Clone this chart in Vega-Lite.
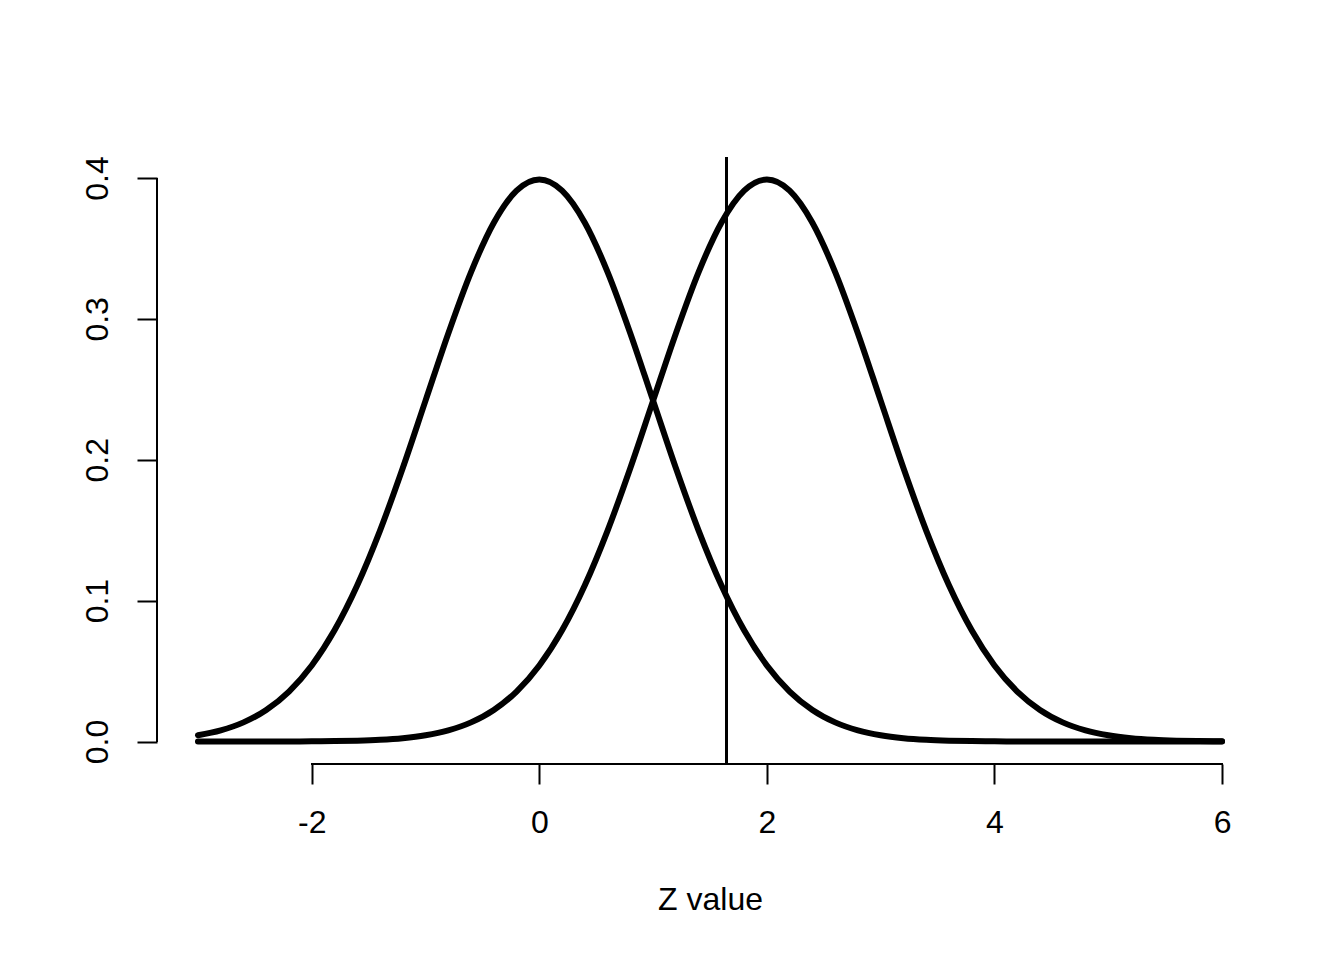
{
  "$schema": "https://vega.github.io/schema/vega-lite/v6.json",
  "width": 1106,
  "height": 607,
  "autosize": {"type": "none"},
  "padding": {"left": 157, "top": 157, "right": 81, "bottom": 196},
  "background": "white",
  "config": {
    "view": {"stroke": null},
    "font": "Liberation Sans",
    "axis": {"labelColor": "black", "titleColor": "black", "tickColor": "black", "grid": false, "domain": false, "labelFont": "Liberation Sans", "titleFont": "Liberation Sans", "labelFontSize": 32, "titleFontSize": 32, "titleFontWeight": "normal", "tickWidth": 2, "tickSize": 20}
  },
  "data": {
    "values": [
      {"z": -3.0, "d": 0.00443, "g": "H0"}, {"z": -2.8, "d": 0.00792, "g": "H0"}, {"z": -2.6, "d": 0.01358, "g": "H0"}, {"z": -2.4, "d": 0.02239, "g": "H0"}, {"z": -2.2, "d": 0.03547, "g": "H0"},
      {"z": -2.0, "d": 0.05399, "g": "H0"}, {"z": -1.8, "d": 0.07895, "g": "H0"}, {"z": -1.6, "d": 0.11092, "g": "H0"}, {"z": -1.4, "d": 0.14973, "g": "H0"}, {"z": -1.2, "d": 0.19419, "g": "H0"},
      {"z": -1.0, "d": 0.24197, "g": "H0"}, {"z": -0.8, "d": 0.28969, "g": "H0"}, {"z": -0.6, "d": 0.33322, "g": "H0"}, {"z": -0.4, "d": 0.36827, "g": "H0"}, {"z": -0.2, "d": 0.39104, "g": "H0"},
      {"z": 0.0, "d": 0.39894, "g": "H0"}, {"z": 0.2, "d": 0.39104, "g": "H0"}, {"z": 0.4, "d": 0.36827, "g": "H0"}, {"z": 0.6, "d": 0.33322, "g": "H0"}, {"z": 0.8, "d": 0.28969, "g": "H0"},
      {"z": 1.0, "d": 0.24197, "g": "H0"}, {"z": 1.2, "d": 0.19419, "g": "H0"}, {"z": 1.4, "d": 0.14973, "g": "H0"}, {"z": 1.6, "d": 0.11092, "g": "H0"}, {"z": 1.8, "d": 0.07895, "g": "H0"},
      {"z": 2.0, "d": 0.05399, "g": "H0"}, {"z": 2.2, "d": 0.03547, "g": "H0"}, {"z": 2.4, "d": 0.02239, "g": "H0"}, {"z": 2.6, "d": 0.01358, "g": "H0"}, {"z": 2.8, "d": 0.00792, "g": "H0"},
      {"z": 3.0, "d": 0.00443, "g": "H0"}, {"z": 3.2, "d": 0.00238, "g": "H0"}, {"z": 3.4, "d": 0.00123, "g": "H0"}, {"z": 3.6, "d": 0.00061, "g": "H0"}, {"z": 3.8, "d": 0.00029, "g": "H0"},
      {"z": 4.0, "d": 0.00013, "g": "H0"}, {"z": 4.2, "d": 0.00006, "g": "H0"}, {"z": 4.4, "d": 0.00002, "g": "H0"}, {"z": 4.6, "d": 0.00001, "g": "H0"}, {"z": 4.8, "d": 0.000004, "g": "H0"},
      {"z": 5.0, "d": 0.0000015, "g": "H0"}, {"z": 5.2, "d": 0.0000005, "g": "H0"}, {"z": 5.4, "d": 0.0000002, "g": "H0"}, {"z": 5.6, "d": 0.0000001, "g": "H0"}, {"z": 5.8, "d": 0.0, "g": "H0"}, {"z": 6.0, "d": 0.0, "g": "H0"},
      {"z": -3.0, "d": 0.0000015, "g": "H1"}, {"z": -2.8, "d": 0.000004, "g": "H1"}, {"z": -2.6, "d": 0.00001, "g": "H1"}, {"z": -2.4, "d": 0.00002, "g": "H1"}, {"z": -2.2, "d": 0.00006, "g": "H1"},
      {"z": -2.0, "d": 0.00013, "g": "H1"}, {"z": -1.8, "d": 0.00029, "g": "H1"}, {"z": -1.6, "d": 0.00061, "g": "H1"}, {"z": -1.4, "d": 0.00123, "g": "H1"}, {"z": -1.2, "d": 0.00238, "g": "H1"},
      {"z": -1.0, "d": 0.00443, "g": "H1"}, {"z": -0.8, "d": 0.00792, "g": "H1"}, {"z": -0.6, "d": 0.01358, "g": "H1"}, {"z": -0.4, "d": 0.02239, "g": "H1"}, {"z": -0.2, "d": 0.03547, "g": "H1"},
      {"z": 0.0, "d": 0.05399, "g": "H1"}, {"z": 0.2, "d": 0.07895, "g": "H1"}, {"z": 0.4, "d": 0.11092, "g": "H1"}, {"z": 0.6, "d": 0.14973, "g": "H1"}, {"z": 0.8, "d": 0.19419, "g": "H1"},
      {"z": 1.0, "d": 0.24197, "g": "H1"}, {"z": 1.2, "d": 0.28969, "g": "H1"}, {"z": 1.4, "d": 0.33322, "g": "H1"}, {"z": 1.6, "d": 0.36827, "g": "H1"}, {"z": 1.8, "d": 0.39104, "g": "H1"},
      {"z": 2.0, "d": 0.39894, "g": "H1"}, {"z": 2.2, "d": 0.39104, "g": "H1"}, {"z": 2.4, "d": 0.36827, "g": "H1"}, {"z": 2.6, "d": 0.33322, "g": "H1"}, {"z": 2.8, "d": 0.28969, "g": "H1"},
      {"z": 3.0, "d": 0.24197, "g": "H1"}, {"z": 3.2, "d": 0.19419, "g": "H1"}, {"z": 3.4, "d": 0.14973, "g": "H1"}, {"z": 3.6, "d": 0.11092, "g": "H1"}, {"z": 3.8, "d": 0.07895, "g": "H1"},
      {"z": 4.0, "d": 0.05399, "g": "H1"}, {"z": 4.2, "d": 0.03547, "g": "H1"}, {"z": 4.4, "d": 0.02239, "g": "H1"}, {"z": 4.6, "d": 0.01358, "g": "H1"}, {"z": 4.8, "d": 0.00792, "g": "H1"},
      {"z": 5.0, "d": 0.00443, "g": "H1"}, {"z": 5.2, "d": 0.00238, "g": "H1"}, {"z": 5.4, "d": 0.00123, "g": "H1"}, {"z": 5.6, "d": 0.00061, "g": "H1"}, {"z": 5.8, "d": 0.00029, "g": "H1"}, {"z": 6.0, "d": 0.00013, "g": "H1"}
    ]
  },
  "layer": [
    {
      "mark": {"type": "line", "color": "black", "strokeWidth": 6, "strokeCap": "round", "strokeJoin": "round", "interpolate": "monotone"},
      "encoding": {
        "x": {"field": "z", "type": "quantitative", "scale": {"domain": [-3.36, 6.36], "nice": false, "zero": false},
          "axis": {"values": [-2, 0, 2, 4, 6], "labelExpr": "'' + datum.value", "title": "Z value", "labelPadding": 23, "titlePadding": 46, "labelFlush": false}},
        "y": {"field": "d", "type": "quantitative", "scale": {"domain": [-0.01596, 0.4149], "nice": false, "zero": false},
          "axis": {"values": [0, 0.1, 0.2, 0.3, 0.4], "format": ".1f", "title": null, "labelAngle": -90, "labelPadding": 23, "labelFlush": false}},
        "detail": {"field": "g", "type": "nominal"}
      }
    },
    {
      "mark": {"type": "rule", "color": "black", "strokeWidth": 2},
      "encoding": {"x": {"datum": 1.645}}
    },
    {
      "mark": {"type": "rule", "color": "black", "strokeWidth": 2},
      "encoding": {"x": {"datum": -2}, "x2": {"datum": 6}, "y": {"datum": -0.01596}}
    },
    {
      "mark": {"type": "rule", "color": "black", "strokeWidth": 2},
      "encoding": {"x": {"datum": -3.36}, "y": {"datum": 0}, "y2": {"datum": 0.4}}
    }
  ]
}
